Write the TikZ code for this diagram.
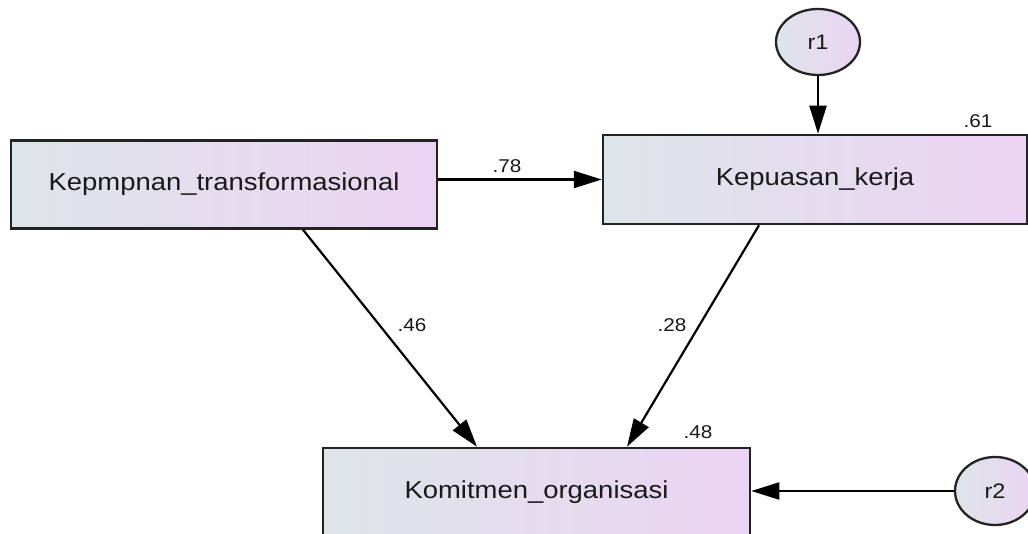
\documentclass[tikz,border=0pt]{standalone}
\usepackage{fontspec}
\setmainfont{Liberation Sans}[FakeStretch=1.12]
\usetikzlibrary{arrows.meta,shapes.geometric}
\definecolor{shadeL}{RGB}{221,229,233}
\definecolor{shadeR}{RGB}{236,211,243}
\definecolor{edgegray}{RGB}{35,35,35}
\definecolor{txtgray}{RGB}{25,25,25}
\tikzset{
  varbox/.style={draw=edgegray, line width=2.5pt, left color=shadeL, right color=shadeR,
    minimum width=426pt, minimum height=88pt, inner sep=0pt,
    font=\fontsize{24.5}{28}\selectfont, text=txtgray},
  errnode/.style={ellipse, draw=edgegray, line width=2.3pt, left color=shadeL, right color=shadeR,
    minimum width=84pt, minimum height=66pt, inner sep=0pt,
    font=\fontsize{21}{24}\selectfont, text=txtgray},
  coef/.style={font=\fontsize{18.5}{21}\selectfont, text=txtgray, inner sep=0pt},
  arr/.style={draw=black, line width=2.2pt, -{Triangle[length=28pt,width=17pt]}}
}
\begin{document}
\begin{tikzpicture}[x=1pt,y=-1pt]
\useasboundingbox (0,0) rectangle (1028,534);
\fill[white] (0,0) rectangle (1028,534);

\node[varbox] (A) at (224,184.5) {Kepmpnan\_transformasional};
\node[varbox, minimum width=424pt, minimum height=89pt] (B) at (815,179.5) {Kepuasan\_kerja};
\node[varbox, minimum width=427pt] (C) at (536.5,492) {Komitmen\_organisasi};
\node[errnode] (r1) at (818,42) {r1};
\node[errnode, minimum width=80pt, minimum height=68pt] (r2) at (995,491) {r2};

\draw[arr] (A.east |- B.west) -- (B.west);
\draw[arr] (r1.south) -- (r1.south |- B.north);
\draw[arr] ([xshift=79pt]A.south) -- ([xshift=-59.5pt]C.north);
\draw[arr] ([xshift=-56pt]B.south) -- ([xshift=90.5pt]C.north);
\draw[arr] (r2.west) -- (r2.west -| C.east);

\node[coef] (l78) at (507,166) {.78};
\node[coef] (l61) at (978,121) {.61};
\node[coef] (l46) at (412,325) {.46};
\node[coef] (l28) at (672,325) {.28};
\node[coef] (l48) at (698,432) {.48};
\end{tikzpicture}
\end{document}
